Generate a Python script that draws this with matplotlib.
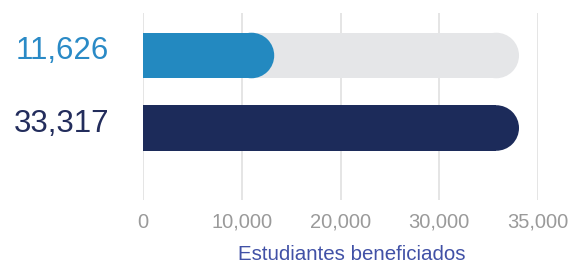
import matplotlib
matplotlib.use("Agg")
import matplotlib.pyplot as plt
import matplotlib.transforms as mtrans
from matplotlib.patches import Ellipse
import numpy as np

# Data
categories = ["11,626", "33,317"]
values = [11626, 33317]
track_total = 33317
tick_labels = ["0", "10,000", "20,000", "30,000", "35,000"]
x_label = "Estudiantes beneficiados"

bar_colors = ["#2389c0", "#1c2b5a"]
label_colors = ["#2a8ac6", "#232d5c"]
track_color = "#e5e6e8"
grid_color = "#e0e0e0"

plt.rcParams['font.family'] = ['Liberation Sans', 'DejaVu Sans']

W, H = 575, 270
fig = plt.figure(figsize=(W / 100, H / 100), dpi=100)
ax_left, ax_right = 143 / W, 538 / W
ax_top, ax_bot = 1 - 13 / H, 1 - 200 / H
ax = fig.add_axes([ax_left, ax_bot, ax_right - ax_left, ax_top - ax_bot])

xmax = 35000
ax.set_xlim(0, xmax)
ax.set_ylim(1.993, -0.586)
bar_h = 0.628

for s in ax.spines.values():
    s.set_visible(False)
ticks = np.linspace(0, xmax, len(tick_labels))
ax.set_xticks(ticks)
ax.set_xticklabels(tick_labels, color="#9a9a9a", fontsize=14.5)
ax.tick_params(axis='x', length=0, pad=9)
ax.set_yticks([])
for t in ticks:
    ax.axvline(t, color=grid_color, lw=1.2, zorder=0)

# pixel scale to build round caps
p0 = ax.transData.transform((0, 0))
p1 = ax.transData.transform((1000, 1))
px_per_x = abs(p1[0] - p0[0]) / 1000
px_per_y = abs(p1[1] - p0[1])
r_px = bar_h * px_per_y / 2
r_x = r_px / px_per_x


def rounded_bar(y, value, color, z):
    ax.barh(y, value - r_x, height=bar_h, color=color, lw=0, zorder=z)
    ax.add_patch(Ellipse((value - r_x, y), 2 * r_x, bar_h, color=color, lw=0, zorder=z))


# top: track + highlighted part
rounded_bar(0, track_total, track_color, 1)
rounded_bar(0, values[0], bar_colors[0], 2)
# bottom
rounded_bar(1, values[1], bar_colors[1], 2)

trans = mtrans.blended_transform_factory(ax.transAxes, ax.transData)
for i, (lab, col) in enumerate(zip(categories, label_colors)):
    ax.text((109 - 143) / 395, i - 0.06, lab, transform=trans, ha='right', va='center',
            fontsize=22.5, color=col)

fig.text(352 / W, 1 - 254.5 / H, x_label, ha='center', va='center', fontsize=14.8,
         color="#4151a6")

fig.savefig("out.png", dpi=100)
